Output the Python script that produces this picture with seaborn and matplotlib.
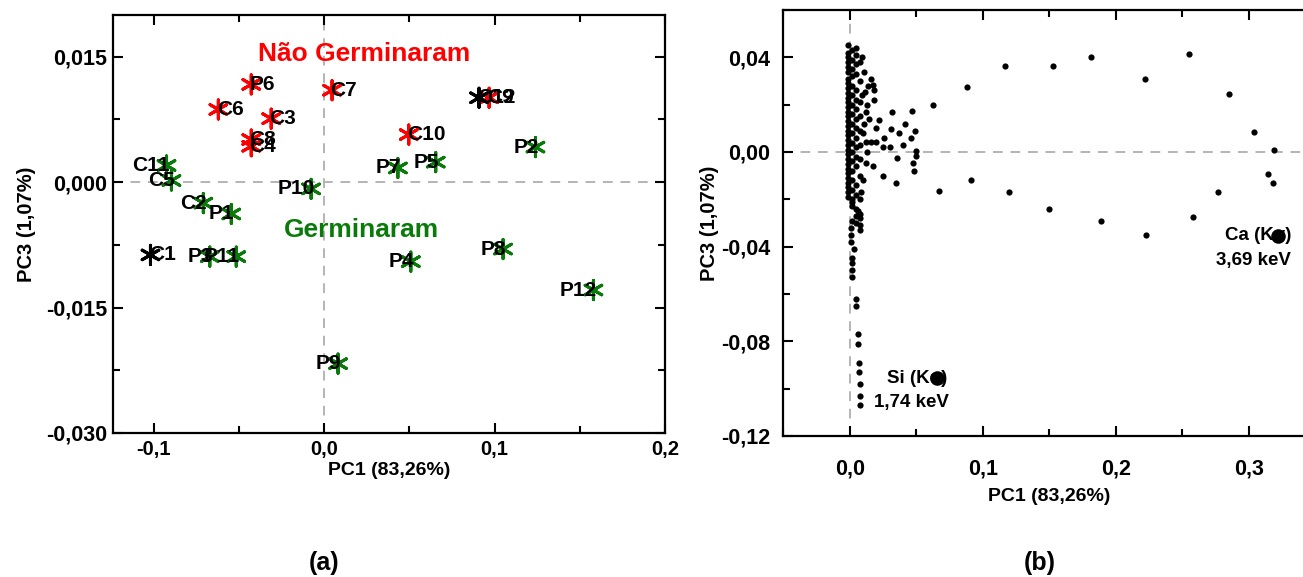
import numpy as np
import pandas as pd
import seaborn as sns
import matplotlib.pyplot as plt
from matplotlib.ticker import MultipleLocator, FixedLocator

sns.set_style("white")
plt.rcParams['font.family'] = ['Liberation Sans', 'DejaVu Sans']
plt.rcParams['font.weight'] = 'bold'
plt.rcParams['text.color'] = 'black'
plt.rcParams['axes.labelcolor'] = 'black'
plt.rcParams['xtick.color'] = 'black'
plt.rcParams['ytick.color'] = 'black'

# ---- (a) scores PC1 x PC3
names = ["C1", "C2", "C3", "C4", "C5", "C6", "C7", "C8", "C9", "C10", "C11", "C12",
         "P1", "P2", "P3", "P4", "P5", "P6", "P7", "P8", "P9", "P10", "P11", "P12"]
pc1 = [-0.1018, -0.0708, -0.0310, -0.0427, -0.0895, -0.0620, 0.0047, -0.0427, 0.0968, 0.0497, -0.0924, 0.0909,
       -0.0544, 0.1240, -0.0670, 0.0509, 0.0655, -0.0427, 0.0433, 0.1050, 0.0082, -0.0076, -0.0515, 0.1580]
pc3 = [-0.0087, -0.0025, 0.0076, 0.0043, 0.0002, 0.0087, 0.0110, 0.0051, 0.0101, 0.0057, 0.0020, 0.0101,
       -0.0038, 0.0042, -0.0089, -0.0095, 0.0024, 0.0117, 0.0017, -0.0080, -0.0217, -0.0008, -0.0089, -0.0129]
group = ["outro", "germ", "nao", "nao", "germ", "nao", "nao", "nao", "nao", "nao", "germ", "outro",
         "germ", "germ", "germ", "germ", "germ", "nao", "germ", "germ", "germ", "germ", "germ", "germ"]

# ---- (b) loadings PC1 x PC3
load_x = ([-0.001] * 32 + [0.002] * 18 + [0.005] * 18 + [0.008] * 10 +
          [0.002, 0.006, 0.008, 0.002, 0.008, 0.001, 0.008, 0.001, 0.001, 0.003, 0.002, 0.002,
           0.002, 0.002, 0.005, 0.005, 0.006, 0.006, 0.007, 0.007, 0.008, 0.008, 0.008] +
          [0.0158, 0.0173, 0.018, 0.018, 0.0135, 0.0113, 0.0128, 0.0143, 0.0218, 0.0195, 0.0195,
           0.016, 0.012, 0.0173, 0.012, 0.0083, 0.0248, 0.0346, 0.0353, 0.0248, 0.030, 0.026,
           0.031, 0.0368, 0.040, 0.0474, 0.048, 0.0496, 0.0496, 0.0459, 0.0489, 0.0414, 0.0316,
           0.0466, 0.0624, 0.0669, 0.011, 0.010, 0.013, 0.010, 0.012, 0.009, 0.011, 0.009] +
          [0.088, 0.117, 0.153, 0.181, 0.222, 0.255, 0.285, 0.304, 0.319, 0.314, 0.318, 0.277,
           0.258, 0.2226, 0.189, 0.1496, 0.1195, 0.091])
load_y = ([0.045, 0.042, 0.040, 0.038, 0.036, 0.034, 0.031, 0.029, 0.027, 0.025, 0.023, 0.021,
           0.019, 0.017, 0.015, 0.013, 0.011, 0.009, 0.007, 0.005, 0.003, 0.001, -0.001, -0.003,
           -0.005, -0.007, -0.009, -0.011, -0.013, -0.015, -0.017, -0.019] +
          [0.043, 0.039, 0.035, 0.032, 0.028, 0.024, 0.020, 0.016, 0.012, 0.008, 0.004, 0.000,
           -0.004, -0.008, -0.012, -0.016, -0.020, -0.023] +
          [0.044, 0.041, 0.037, 0.033, 0.026, 0.022, 0.018, 0.014, 0.010, 0.006, 0.002, -0.002,
           -0.006, -0.014, -0.018, -0.024, -0.027, -0.030] +
          [0.038, 0.030, 0.021, 0.015, 0.009, 0.003, -0.003, -0.010, -0.020, -0.026] +
          [-0.021, -0.025, -0.028, -0.029, -0.031, -0.032, -0.033, -0.035, -0.038, -0.041, -0.045,
           -0.047, -0.050, -0.053, -0.062, -0.065, -0.077, -0.081, -0.089, -0.093, -0.098, -0.103,
           -0.107] +
          [0.0307, 0.0282, 0.026, 0.0219, 0.028, 0.0253, 0.0198, 0.014, 0.0135, 0.0101, 0.0042,
           0.0042, 0.0042, -0.0059, -0.0046, -0.0168, -0.0101, -0.013, -0.0025, 0.0021, 0.0021,
           0.0059, 0.0097, 0.008, 0.0029, -0.0046, -0.008, -0.0017, 0.0004, 0.0059, 0.0088, 0.0118,
           0.0168, 0.0173, 0.0198, -0.0164, 0.012, 0.008, 0.0, -0.012, 0.017, 0.024, 0.034, 0.040] +
          [0.0274, 0.0362, 0.0362, 0.040, 0.0307, 0.0413, 0.0244, 0.0084, 0.0008, -0.0093, -0.013,
           -0.0168, -0.0274, -0.035, -0.029, -0.024, -0.0168, -0.0118])
peak_x = [0.0654, 0.322]
peak_y = [-0.0956, -0.0355]
peak_names = ["Si (K\u03b1)", "Ca (K\u03b1)"]
peak_kev = ["1,74 keV", "3,69 keV"]

df_a = pd.DataFrame({"PC1": pc1, "PC3": pc3, "grupo": group, "nome": names})
df_b = pd.DataFrame({"PC1": load_x, "PC3": load_y})

colors = {"nao": "#ff0000", "germ": "#0a7a0a", "outro": "black"}
asterisk = (6, 2, 0)

fig = plt.figure(figsize=(13.03, 5.77), dpi=100)
ax1 = fig.add_axes([0.0867, 0.2496, 0.4237, 0.7244])
ax2 = fig.add_axes([0.601, 0.2444, 0.4086, 0.7383])


def comma(v, nd):
    return f"{v:.{nd}f}".replace(".", ",")


# panel (a)
ax1.axhline(0, color="#b4b4b4", ls=(0, (5, 4)), lw=1.4, zorder=0)
ax1.axvline(0, color="#b4b4b4", ls=(0, (5, 4)), lw=1.4, zorder=0)
sns.scatterplot(data=df_a, x="PC1", y="PC3", hue="grupo", palette=colors, marker=asterisk,
                s=190, linewidth=2.2, legend=False, ax=ax1, zorder=3)
for _, r in df_a.iterrows():
    if r["grupo"] == "germ":
        ax1.text(r["PC1"] + 0.002, r["PC3"], r["nome"], ha="right", va="center",
                 fontsize=15, fontweight="bold", zorder=4)
    else:
        ax1.text(r["PC1"] - 0.001, r["PC3"], r["nome"], ha="left", va="center",
                 fontsize=15, fontweight="bold", zorder=4)
ax1.text(0.0237, 0.0153, "Não Germinaram", color="#ff0000", fontsize=19, fontweight="bold",
         ha="center", va="center")
ax1.text(0.022, -0.0057, "Germinaram", color="#0a7a0a", fontsize=19, fontweight="bold",
         ha="center", va="center")
ax1.set_xlim(-0.1238, 0.2)
ax1.set_ylim(-0.030, 0.020)
xt = [-0.1, 0.0, 0.1, 0.2]
yt = [-0.030, -0.015, 0.000, 0.015]
ax1.xaxis.set_major_locator(FixedLocator(xt))
ax1.yaxis.set_major_locator(FixedLocator(yt))
ax1.set_xticklabels([comma(v, 1) for v in xt])
ax1.set_yticklabels([comma(v, 3) for v in yt])
ax1.xaxis.set_minor_locator(MultipleLocator(0.05))
ax1.yaxis.set_minor_locator(MultipleLocator(0.0075))
ax1.set_xlabel("PC1 (83,26%)", fontsize=14, fontweight="bold", labelpad=2)
ax1.set_ylabel("PC3 (1,07%)", fontsize=14.5, fontweight="bold", labelpad=7)

# panel (b)
ax2.axhline(0, color="#b4b4b4", ls=(0, (5, 4)), lw=1.4, zorder=0)
ax2.axvline(0, color="#b4b4b4", ls=(0, (5, 4)), lw=1.4, zorder=0)
sns.scatterplot(data=df_b, x="PC1", y="PC3", color="black", s=20, linewidth=0, ax=ax2, zorder=3)
for px, py, nm, kv in zip(peak_x, peak_y, peak_names, peak_kev):
    ax2.text(px - 0.015, py, nm, ha="center", va="center", fontsize=13.5, fontweight="bold", zorder=4)
    ax2.text(px - 0.019, py - 0.0102, kv, ha="center", va="center", fontsize=13.5,
             fontweight="bold", zorder=4)
sns.scatterplot(x=peak_x, y=peak_y, color="black", s=110, linewidth=0, ax=ax2, zorder=5)
ax2.set_xlim(-0.05, 0.35)
ax2.set_ylim(-0.12, 0.06)
xt2 = [0.0, 0.1, 0.2, 0.3]
yt2 = [-0.12, -0.08, -0.04, 0.00, 0.04]
ax2.xaxis.set_major_locator(FixedLocator(xt2))
ax2.yaxis.set_major_locator(FixedLocator(yt2))
ax2.set_xticklabels([comma(v, 1) for v in xt2])
ax2.set_yticklabels([comma(v, 2) for v in yt2])
ax2.xaxis.set_minor_locator(MultipleLocator(0.05))
ax2.yaxis.set_minor_locator(MultipleLocator(0.02))
ax2.set_xlabel("PC1 (83,26%)", fontsize=14, fontweight="bold", labelpad=6)
ax2.set_ylabel("PC3 (1,07%)", fontsize=14.5, fontweight="bold", labelpad=2)

for ax in (ax1, ax2):
    for sp in ax.spines.values():
        sp.set_visible(True)
        sp.set_color("black")
        sp.set_linewidth(1.6)
    ax.tick_params(which="both", direction="in", top=True, right=True, width=1.5,
                   labelsize=15.5, bottom=True, left=True)
    ax.tick_params(which="major", length=7)
    ax.tick_params(which="minor", length=5)
    for lb in ax.get_xticklabels() + ax.get_yticklabels():
        lb.set_fontweight("bold")

ax1.tick_params(axis="y", pad=4)
ax1.tick_params(axis="x", pad=5, labelsize=14.5)
ax2.tick_params(axis="y", pad=9)
ax2.tick_params(axis="x", pad=16)

fig.text(0.249, 0.024, "(a)", fontsize=18, fontweight="bold", ha="center", va="center")
fig.text(0.798, 0.024, "(b)", fontsize=18, fontweight="bold", ha="center", va="center")

fig.savefig("out.png", dpi=100)
